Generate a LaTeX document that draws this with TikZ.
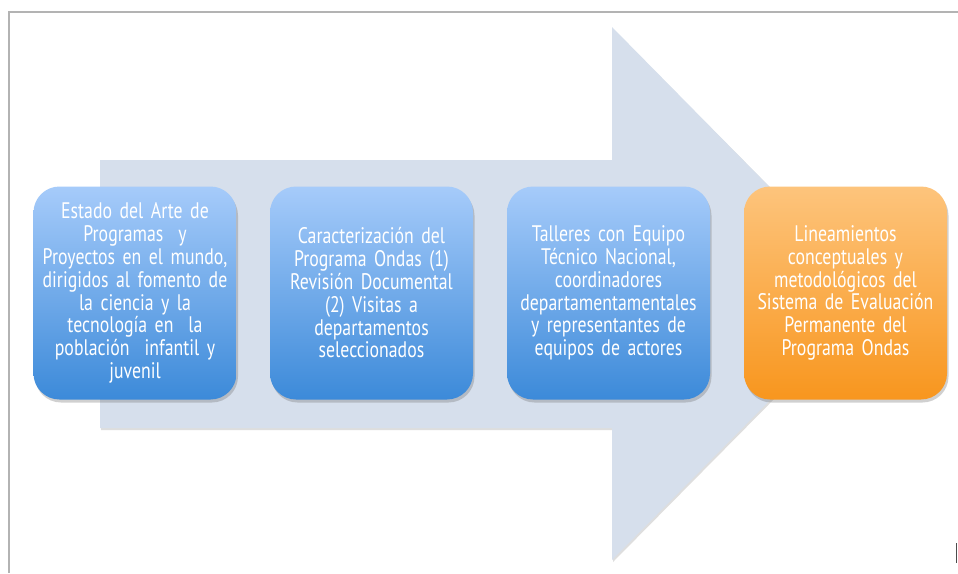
\documentclass[tikz,border=0pt]{standalone}
\usepackage{fontspec}
\setmainfont[FakeStretch=0.79]{PT Sans}
\usetikzlibrary{shadows}
\definecolor{arrowfill}{HTML}{D6DFEC}
\definecolor{bluetop}{HTML}{A6CBFA}
\definecolor{bluebot}{HTML}{3C8AD9}
\definecolor{orgtop}{HTML}{FDC47C}
\definecolor{orgbot}{HTML}{F8961E}
\definecolor{framegray}{HTML}{B3B3B3}
\tikzset{
  stepbox/.style={rounded corners=26pt, minimum width=203pt, minimum height=213pt,
    text width=203pt, align=center, inner sep=0pt, text=white,
    font=\fontsize{22.5}{22.8}\selectfont,
    drop shadow={shadow xshift=1.5pt, shadow yshift=-3pt, opacity=0.3, fill=black!60}},
  bluebox/.style={stepbox, top color=bluetop, bottom color=bluebot, draw=none},
  orangebox/.style={stepbox, top color=orgtop, bottom color=orgbot, draw=none}
}
\begin{document}
\begin{tikzpicture}[x=1pt,y=-1pt]
\useasboundingbox (0,0) rectangle (958,573);
\fill[white] (0,0) rectangle (958,573);
% frame
\draw[framegray, line width=2pt] (9,573) -- (9,12) -- (958,12);
% big arrow
\fill[black!25, opacity=0.5] (101,162) -- (613,162) -- (613,29) -- (877,295) -- (613,562) -- (613,430) -- (101,430) -- cycle;
\fill[arrowfill] (100,160) -- (612,160) -- (612,27) -- (875,294) -- (612,560) -- (612,428) -- (100,428) -- cycle;
% boxes
\node[bluebox] (b1) at (135,293) {Estado del Arte de\\ Programas\ \ y\\ Proyectos en el mundo,\\ dirigidos al fomento de\\ la ciencia y la\\ tecnología en\ \ la\\ población\ \ infantil y\\ juvenil};
\node[bluebox] (b2) at (371.5,293) {Caracterización del\\ Programa Ondas (1)\\ Revisión Documental\\ (2) Visitas a\\ departamentos\\ seleccionados};
\node[bluebox] (b3) at (608.5,293) {Talleres con Equipo\\ Técnico Nacional,\\ coordinadores\\ departamentamentales\\ y representantes de\\ equipos de actores};
\node[orangebox] (b4) at (845.5,293) {Lineamientos\\ conceptuales y\\ metodológicos del\\ Sistema de Evaluación\\ Permanente del\\ Programa Ondas};
% small cursor mark
\draw[black!70, line width=1pt] (956,543) -- (956,563);
\end{tikzpicture}
\end{document}
